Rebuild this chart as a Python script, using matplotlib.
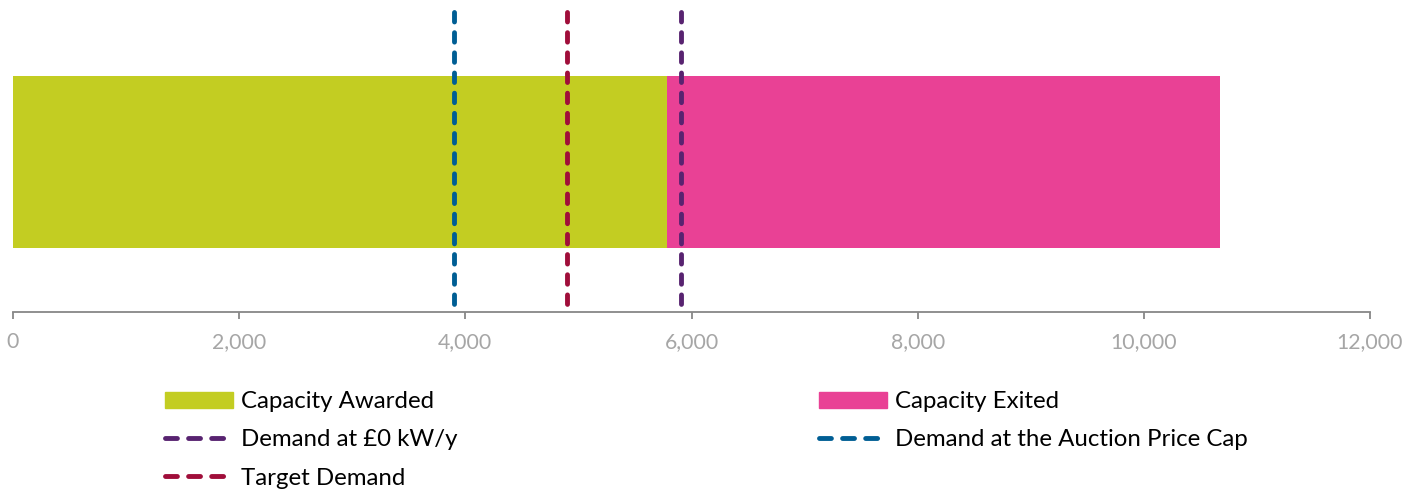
import matplotlib
matplotlib.use("Agg")
import matplotlib.pyplot as plt
from matplotlib.patches import Patch
from matplotlib.lines import Line2D

# Data
capacity_awarded = 5780
capacity_exited = 10670 - 5780
demand_zero = 5906
demand_cap = 3903
target_demand = 4903
xticks = [0, 2000, 4000, 6000, 8000, 10000, 12000]
xtick_labels = ["0", "2,000", "4,000", "6,000", "8,000", "10,000", "12,000"]

c_green = "#C3CD22"
c_pink = "#E94195"
c_blue = "#005E94"
c_red = "#A00E3A"
c_purple = "#582370"
c_axis = "#878787"
c_tick = "#A6A6A6"

plt.rcParams['font.family'] = ['Lato', 'DejaVu Sans']

W, H = 1421, 492
fig = plt.figure(figsize=(W / 100, H / 100), dpi=100)
ax = fig.add_axes([13 / W, 1 - 312 / H, (1370 - 13) / W, 300 / H])

ax.barh([0.5], [capacity_awarded], height=0.573, color=c_green, left=0)
ax.barh([0.5], [capacity_exited], height=0.573, color=c_pink, left=capacity_awarded)

lw = 3.5
dash = (1.95, 2.2)
for xv, col in [(demand_cap, c_blue), (target_demand, c_red), (demand_zero, c_purple)]:
    ln, = ax.plot([xv, xv], [1.0, 0.0], color=col, lw=lw, dash_capstyle='round',
                  zorder=3, clip_on=False)
    ln.set_dashes(dash)

ax.set_xlim(0, 12000)
ax.set_ylim(0, 1)
for s in ['top', 'right', 'left']:
    ax.spines[s].set_visible(False)
ax.spines['bottom'].set_color(c_axis)
ax.spines['bottom'].set_linewidth(1.3)
ax.set_yticks([])
ax.set_xticks(xticks)
ax.set_xticklabels(xtick_labels)
ax.tick_params(axis='x', direction='out', length=5, width=1.3, color=c_axis,
               labelcolor=c_tick, labelsize=15.3, pad=9.5)

def dline(col):
    l = Line2D([0], [0], color=col, lw=lw, dash_capstyle='round')
    l.set_dashes((2.45, 2.3))
    return l

h1 = [Patch(color=c_green), dline(c_purple), dline(c_red)]
l1 = ["Capacity Awarded", "Demand at £0 kW/y", "Target Demand"]
h2 = [Patch(color=c_pink), dline(c_blue)]
l2 = ["Capacity Exited", "Demand at the Auction Price Cap"]

fs = 17.3
common = dict(loc='upper left', frameon=False, fontsize=fs, borderpad=0,
              borderaxespad=0, handlelength=68 / (fs * 100 / 72),
              handletextpad=8 / (fs * 100 / 72),
              labelspacing=0.72, handleheight=0.65)
leg1 = fig.legend(h1, l1, bbox_to_anchor=(165 / W, 1 - 391 / H), **common)
leg2 = fig.legend(h2, l2, bbox_to_anchor=(819 / W, 1 - 391 / H), **common)

fig.savefig("out.png", dpi=100)
